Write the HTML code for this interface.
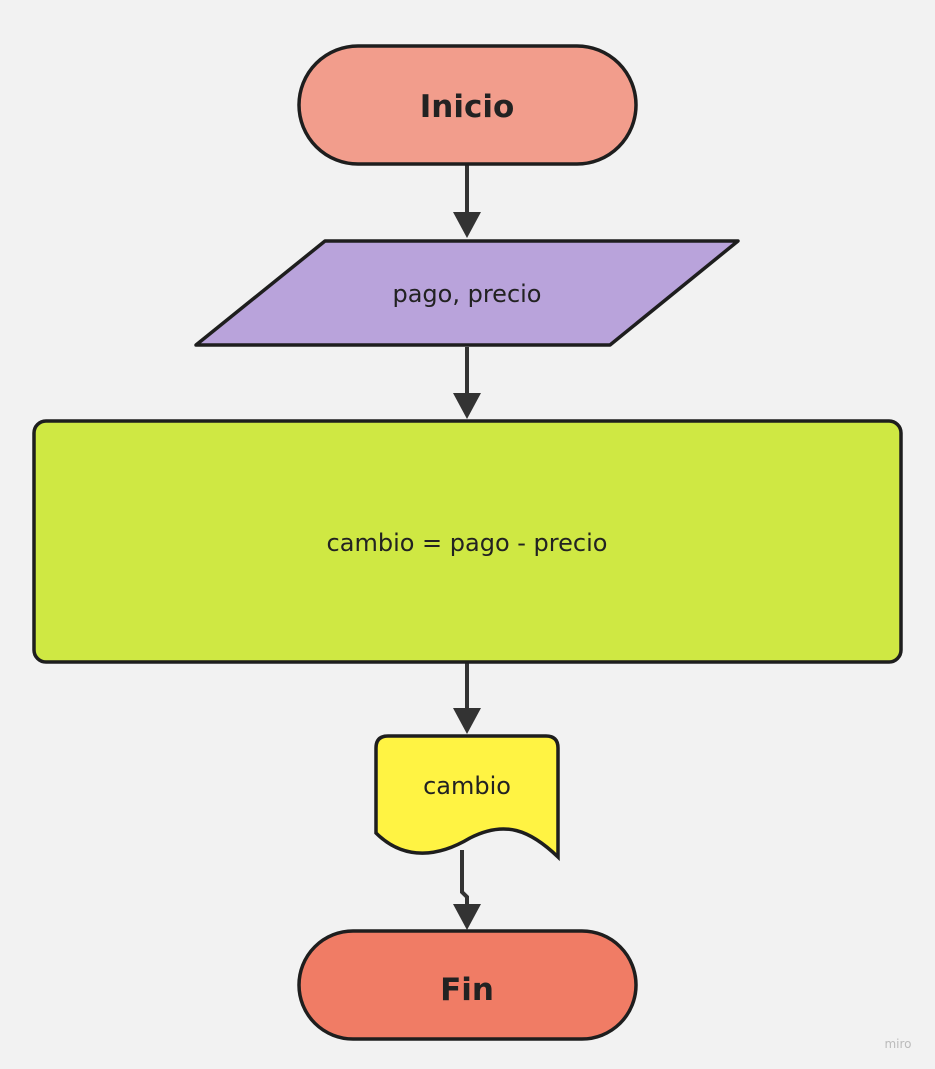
<!DOCTYPE html>
<html><head><style>
html,body{margin:0;padding:0;background:#f2f2f2;}
svg{display:block}
text{font-family:"DejaVu Sans","Liberation Sans",sans-serif;fill:#222;}
</style></head><body>
<svg width="935" height="1069" viewBox="0 0 935 1069" xmlns="http://www.w3.org/2000/svg">
<rect width="935" height="1069" fill="#f2f2f2"/>
<g stroke="#333" stroke-width="4" fill="none">
<line x1="467" y1="165" x2="467" y2="222"/>
<line x1="467" y1="347" x2="467" y2="403"/>
<line x1="467" y1="662" x2="467" y2="718"/>
<path d="M462 850 L462 892 L467 897 L467 912"/>
</g>
<g fill="#333">
<path d="M453 212 L481 212 L467 238 Z"/>
<path d="M453 393 L481 393 L467 419 Z"/>
<path d="M453 708 L481 708 L467 734 Z"/>
<path d="M453 904 L481 904 L467 930 Z"/>
</g>
<g stroke="#1e1e1e" stroke-width="3.5">
<rect x="299" y="46" width="337" height="118" rx="59" fill="#f29d8c"/>
<path d="M325 241 L738 241 L610 345 L196 345 Z" fill="#b9a3db" stroke-linejoin="round"/>
<rect x="34" y="421" width="867" height="241" rx="12" fill="#cfe843"/>
<path d="M388 736 L546 736 Q558 736 558 748 L558 857 C530 830 505 820 470 838 C440 856 405 862 376 833 L376 748 Q376 736 388 736 Z" fill="#fff343"/>
<rect x="299" y="931" width="337" height="108" rx="54" fill="#f07c65"/>
</g>
<text x="467" y="117" text-anchor="middle" font-size="31" font-weight="bold">Inicio</text>
<text x="467" y="302" text-anchor="middle" font-size="24">pago, precio</text>
<text x="467" y="551" text-anchor="middle" font-size="24">cambio = pago - precio</text>
<text x="467" y="794" text-anchor="middle" font-size="24">cambio</text>
<text x="467" y="1000" text-anchor="middle" font-size="31" font-weight="bold">Fin</text>
<text x="898" y="1048" text-anchor="middle" font-size="12" style="fill:#bbb">miro</text>
</svg>
</body></html>
